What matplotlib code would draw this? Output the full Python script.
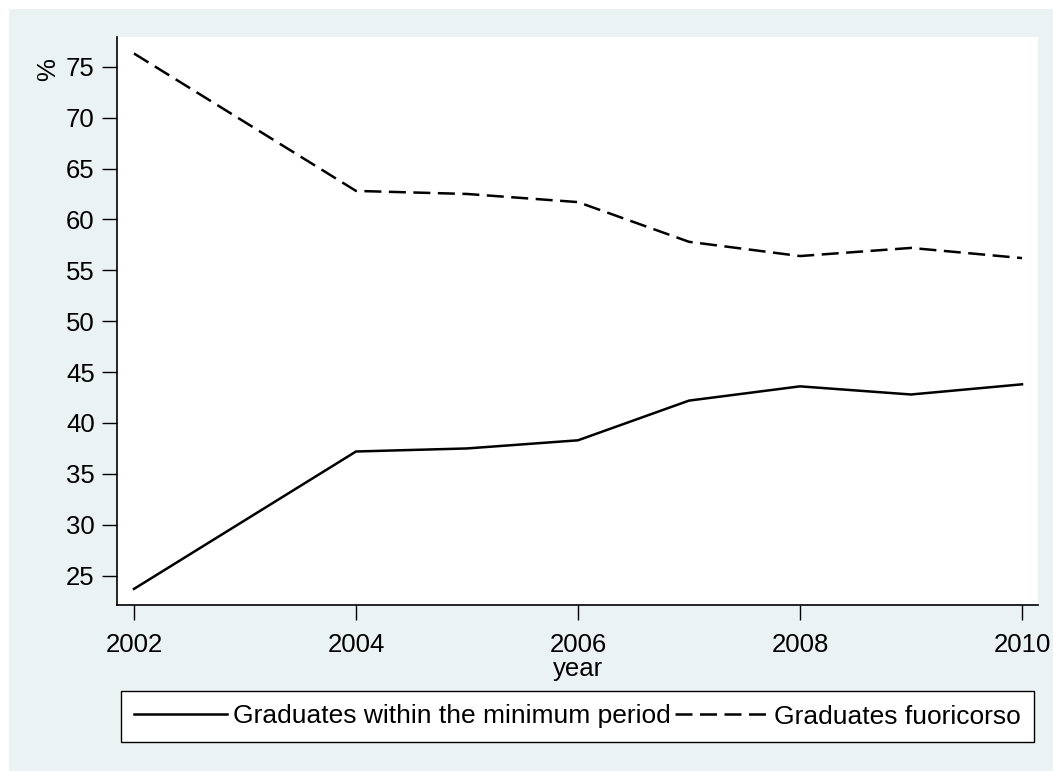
import matplotlib
matplotlib.use("Agg")
import matplotlib.pyplot as plt
from matplotlib.patches import Rectangle

# data
years = [2002, 2004, 2005, 2006, 2007, 2008, 2009, 2010]
within_min = [23.7, 37.2, 37.5, 38.3, 42.2, 43.6, 42.8, 43.8]
fuoricorso = [76.3, 62.8, 62.5, 61.7, 57.8, 56.4, 57.2, 56.2]
xticks = [2002, 2004, 2006, 2008, 2010]
yticks = [25, 30, 35, 40, 45, 50, 55, 60, 65, 70, 75]

W, H = 1053, 771
plt.rcParams['font.family'] = ['Liberation Sans', 'DejaVu Sans']
fig = plt.figure(figsize=(W / 100, H / 100), dpi=100)

# light graph region behind everything
fig.patches.append(Rectangle((9 / W, 0), 1 - 9 / W, 1 - 9 / H, transform=fig.transFigure,
                             facecolor='#eaf2f3', edgecolor='none', zorder=-10))

ax = fig.add_axes([117 / W, 1 - 605 / H, (1038 - 117) / W, (605 - 37) / H])
ax.set_facecolor('white')

ax.plot(years, within_min, color='black', lw=1.8,
        label='Graduates within the minimum period')
ax.plot(years, fuoricorso, color='black', lw=1.8, dashes=(6.8, 3.0),
        label='Graduates fuoricorso')

ax.set_xlim(2001.847, 2010.144)
ax.set_ylim(22.12, 77.92)
ax.set_xticks(xticks)
ax.set_yticks(yticks)
ax.tick_params(labelsize=18.5, length=11, width=1, direction='out')
ax.tick_params(axis='x', pad=9)
ax.tick_params(axis='y', pad=5)
for s in ['top', 'right']:
    ax.spines[s].set_visible(False)
for s in ['left', 'bottom']:
    ax.spines[s].set_linewidth(1.2)

ax.set_xlabel('year', fontsize=18.5, labelpad=0)
fig.text(48 / W, 1 - 70 / H, '%', rotation=90, fontsize=18.5, ha='center', va='center')

leg = fig.legend(loc='center', bbox_to_anchor=(577.5 / W, 1 - 716.5 / H), ncol=2,
                 fontsize=19, frameon=True, fancybox=False, edgecolor='black',
                 framealpha=1, handlelength=3.5, handletextpad=0.25,
                 columnspacing=0.15, borderpad=0.5, borderaxespad=0)
leg.get_frame().set_linewidth(1.0)

fig.savefig('out.png', dpi=100)
